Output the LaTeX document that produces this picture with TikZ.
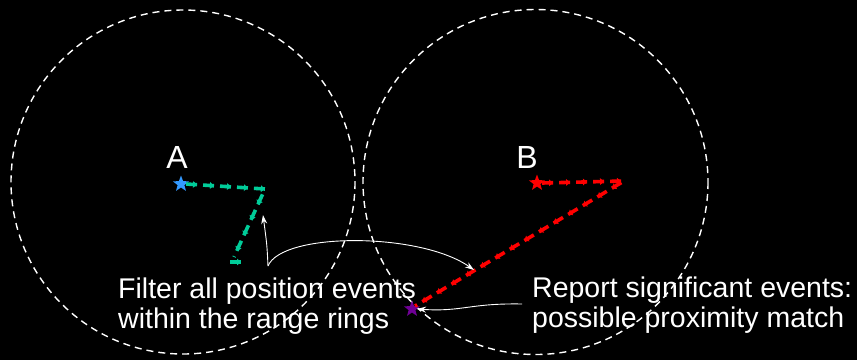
\documentclass[tikz,border=0pt]{standalone}
\usepackage{fontspec}
\setmainfont{Liberation Sans}
\usetikzlibrary{shapes.geometric,arrows.meta,decorations.markings}
\definecolor{trackgreen}{RGB}{0,204,153}
\definecolor{starblue}{RGB}{51,153,255}
\definecolor{starpurple}{RGB}{112,0,150}
\tikzset{
  ring/.style={draw=white,line width=1.4pt,dash pattern=on 7pt off 5pt},
  track/.style={line width=3.6pt,dash pattern=on 11pt off 6pt,line cap=butt,
    postaction={decorate,decoration={markings,
      mark=between positions 11pt and 1 step 17pt with {\arrow{Triangle[length=4pt,width=6.5pt]}}}}},
  marker/.style={star,star points=5,star point ratio=2.4,minimum size=17pt,inner sep=0pt},
  note/.style={text=white,font=\fontsize{28.5}{30}\selectfont,align=left,anchor=base west,inner sep=0pt},
  letter/.style={text=white,font=\fontsize{32}{34}\selectfont,anchor=base,inner sep=0pt},
  pointer/.style={draw=white,line width=0.9pt,-{Stealth[length=9pt,width=6pt]}},
}
\begin{document}
\begin{tikzpicture}[x=1pt,y=-1pt]
\useasboundingbox[fill=black] (0,0) rectangle (857,360);
% range rings
\draw[ring] (183,182) circle (172);
\draw[ring] (535.5,182) circle (172.5);
% positions
\node[marker,fill=starblue] (sA) at (181,184) {};
\node[marker,fill=red] (sB) at (537,183) {};
\node[marker,fill=starpurple] (sP) at (412,309) {};
\node[letter] (lA) at (177,168) {A};
\node[letter] (lB) at (527,168) {B};
% tracks
\coordinate (g1) at (265,189);
\coordinate (g2) at (234,257);
\coordinate (g2b) at (230,262);
\coordinate (g3) at (242,262);
\draw[track,draw=trackgreen,color=trackgreen] (sA.east) -- (g1) -- (g2);
\draw[track,draw=trackgreen,color=trackgreen] (g2b) -- (g3);
\coordinate (r1) at (624,181);
\draw[track,draw=red,color=red] (sB.east) -- (r1) -- (sP.north east);
% texts (base anchor sits on the last line)
\node[note] (tF) at (118,328) {Filter all position events\\within the range rings};
\node[note] (tR) at (532,327) {Report significant events:\\possible proximity match};
% pointers
\coordinate (f0) at (268,266);
\coordinate (fa) at (263,215);
\coordinate (fb) at (474,270);
\coordinate (r0) at (522,304);
\draw[pointer] (f0) .. controls (267,245) .. (fa);
\draw[pointer] (f0) .. controls (282,232) and (420,232) .. (fb);
\draw[pointer] (r0) .. controls (470,303) and (462,312) .. (sP.east);
\end{tikzpicture}
\end{document}
